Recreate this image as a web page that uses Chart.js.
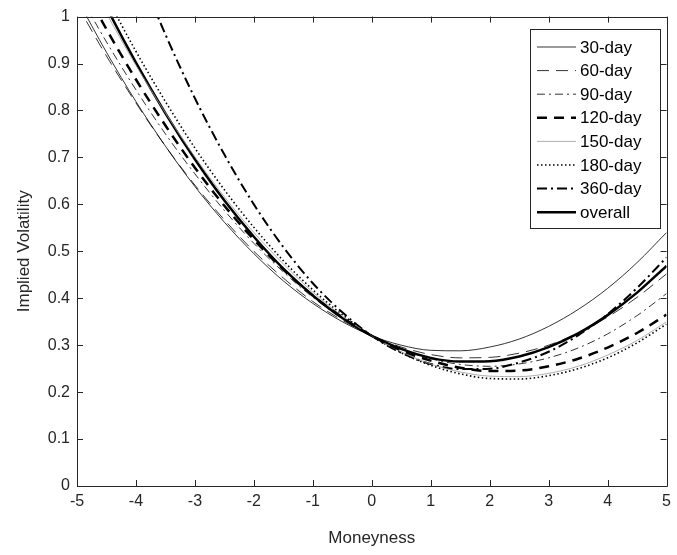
<!DOCTYPE html>
<html>
<head>
<meta charset="utf-8">
<script src="https://cdn.jsdelivr.net/npm/chart.js@4.4.1/dist/chart.umd.min.js"></script>
<style>
html, body { margin: 0; padding: 0; background: #fff; }
#wrap { width: 677px; height: 555px; }
</style>
</head>
<body>
<div id="wrap"><canvas id="smile" width="677" height="555"></canvas></div>
<script>
// moneyness grid and implied volatility
var moneyness = [-5, -4.5, -4, -3.5, -3, -2.5, -2, -1.5, -1, -0.5, 0, 0.5, 1, 1.5, 2, 2.5, 3, 3.5, 4, 4.5, 5];
var vol30  = [1.038, 0.924, 0.819, 0.724, 0.638, 0.562, 0.495, 0.437, 0.389, 0.350, 0.320, 0.300, 0.289, 0.288, 0.296, 0.313, 0.340, 0.376, 0.421, 0.476, 0.540];
var vol60  = [1.025, 0.916, 0.816, 0.724, 0.641, 0.567, 0.500, 0.443, 0.393, 0.353, 0.320, 0.296, 0.280, 0.273, 0.274, 0.283, 0.300, 0.326, 0.360, 0.402, 0.452];
var vol90  = [1.056, 0.946, 0.844, 0.750, 0.665, 0.587, 0.517, 0.456, 0.402, 0.357, 0.320, 0.291, 0.271, 0.259, 0.255, 0.260, 0.273, 0.294, 0.324, 0.363, 0.410];
var vol120 = [1.089, 0.973, 0.866, 0.768, 0.678, 0.597, 0.525, 0.461, 0.406, 0.359, 0.320, 0.289, 0.267, 0.252, 0.245, 0.246, 0.255, 0.271, 0.295, 0.326, 0.365];
var vol150 = [1.126, 1.007, 0.896, 0.795, 0.701, 0.616, 0.540, 0.473, 0.413, 0.362, 0.320, 0.286, 0.260, 0.243, 0.234, 0.233, 0.240, 0.255, 0.279, 0.310, 0.350];
var vol180 = [1.169, 1.043, 0.926, 0.819, 0.720, 0.631, 0.551, 0.480, 0.418, 0.365, 0.320, 0.284, 0.257, 0.239, 0.229, 0.228, 0.235, 0.250, 0.273, 0.305, 0.345];
var vol360 = [1.466, 1.281, 1.114, 0.962, 0.826, 0.706, 0.600, 0.509, 0.432, 0.370, 0.320, 0.284, 0.260, 0.249, 0.250, 0.263, 0.286, 0.321, 0.366, 0.422, 0.487];
var volAll = [1.148, 1.020, 0.902, 0.794, 0.696, 0.608, 0.531, 0.463, 0.406, 0.358, 0.320, 0.292, 0.273, 0.265, 0.266, 0.276, 0.296, 0.325, 0.364, 0.412, 0.469];

var seriesNames = ['30-day', '60-day', '90-day', '120-day', '150-day', '180-day', '360-day', 'overall'];
var xTicks = [-5, -4, -3, -2, -1, 0, 1, 2, 3, 4, 5];
var yTicks = [0, 0.1, 0.2, 0.3, 0.4, 0.5, 0.6, 0.7, 0.8, 0.9, 1];
var yTickLabels = ['0', '0.1', '0.2', '0.3', '0.4', '0.5', '0.6', '0.7', '0.8', '0.9', '1'];

var axisColor = '#262626';
var fontName = '"Liberation Sans", Arial, sans-serif';

function toPoints(values) {
    return values.map(function (v, i) { return { x: moneyness[i], y: v }; });
}

function makeSet(label, values, width, dash, color) {
    return {
        label: label,
        data: toPoints(values),
        borderColor: color || '#000',
        borderWidth: width,
        borderDash: dash,
        pointRadius: 0,
        fill: false,
        cubicInterpolationMode: 'monotone'
    };
}

// frame with inward ticks on all four sides, like the original
var boxAxes = {
    id: 'boxAxes',
    afterDraw: function (chart) {
        var ctx = chart.ctx;
        var a = chart.chartArea;
        var xs = chart.scales.x, ys = chart.scales.y;
        var len = 6;
        ctx.save();
        ctx.strokeStyle = axisColor;
        ctx.lineWidth = 1;
        ctx.setLineDash([]);
        ctx.beginPath();
        ctx.rect(Math.round(a.left) + 0.5, Math.round(a.top) + 0.5, Math.round(a.right - a.left), Math.round(a.bottom - a.top));
        xTicks.forEach(function (t) {
            var px = Math.round(xs.getPixelForValue(t)) + 0.5;
            ctx.moveTo(px, a.bottom); ctx.lineTo(px, a.bottom - len);
            ctx.moveTo(px, a.top); ctx.lineTo(px, a.top + len);
        });
        yTicks.forEach(function (t) {
            var py = Math.round(ys.getPixelForValue(t)) + 0.5;
            ctx.moveTo(a.left, py); ctx.lineTo(a.left + len, py);
            ctx.moveTo(a.right, py); ctx.lineTo(a.right - len, py);
        });
        ctx.stroke();
        ctx.restore();
    }
};

// legend box inside the plot, top right
var legendBox = {
    id: 'legendBox',
    afterDraw: function (chart) {
        var ctx = chart.ctx;
        var x0 = 530.5, y0 = 29.5, w = 130, h = 199;
        ctx.save();
        ctx.fillStyle = '#fff';
        ctx.fillRect(x0, y0, w, h);
        ctx.strokeStyle = axisColor;
        ctx.lineWidth = 1;
        ctx.setLineDash([]);
        ctx.strokeRect(x0, y0, w, h);
        chart.data.datasets.forEach(function (ds, i) {
            var y = 47 + i * 23.6;
            ctx.beginPath();
            ctx.setLineDash(ds.borderDash || []);
            ctx.lineWidth = ds.borderWidth;
            ctx.strokeStyle = ds.borderColor;
            ctx.moveTo(537, y);
            ctx.lineTo(576, y);
            ctx.stroke();
            ctx.setLineDash([]);
            ctx.fillStyle = '#000';
            ctx.font = '17px ' + fontName;
            ctx.textBaseline = 'middle';
            ctx.textAlign = 'left';
            ctx.fillText(ds.label, 580, y + 1);
        });
        ctx.restore();
    }
};

var ctx = document.getElementById('smile');
new Chart(ctx, {
    type: 'line',
    data: {
        datasets: [
            makeSet(seriesNames[0], vol30, 0.8, []),
            makeSet(seriesNames[1], vol60, 0.8, [12, 7]),
            makeSet(seriesNames[2], vol90, 0.8, [8, 4, 2, 4]),
            makeSet(seriesNames[3], vol120, 2.5, [10, 7]),
            makeSet(seriesNames[4], vol150, 0.8, [], '#999'),
            makeSet(seriesNames[5], vol180, 1.6, [1.5, 2.5]),
            makeSet(seriesNames[6], vol360, 2, [10, 4, 2, 4]),
            makeSet(seriesNames[7], volAll, 2.5, [])
        ]
    },
    options: {
        responsive: false,
        devicePixelRatio: 1,
        animation: false,
        layout: { padding: { top: 15, right: 6, left: 0, bottom: 0 } },
        plugins: {
            legend: { display: false },
            tooltip: { enabled: false }
        },
        scales: {
            x: {
                type: 'linear',
                min: -5,
                max: 5,
                afterBuildTicks: function (scale) {
                    scale.ticks = xTicks.map(function (v) { return { value: v }; });
                },
                afterFit: function (scale) { scale.height = 69; },
                grid: { display: false, drawTicks: false },
                border: { display: false },
                ticks: {
                    color: axisColor,
                    font: { family: fontName, size: 16 },
                    padding: 6,
                    maxRotation: 0,
                    callback: function (v) { return String(v); }
                },
                title: {
                    display: true,
                    text: 'Moneyness',
                    color: axisColor,
                    font: { family: fontName, size: 17 },
                    padding: { top: 4, bottom: 6 }
                }
            },
            y: {
                type: 'linear',
                min: 0,
                max: 1,
                afterBuildTicks: function (scale) {
                    scale.ticks = yTicks.map(function (v) { return { value: v }; });
                },
                afterFit: function (scale) { scale.width = 77; },
                grid: { display: false, drawTicks: false },
                border: { display: false },
                ticks: {
                    color: axisColor,
                    font: { family: fontName, size: 16 },
                    padding: 7,
                    callback: function (v, i) { return yTickLabels[i]; }
                },
                title: {
                    display: true,
                    text: 'Implied Volatility',
                    color: axisColor,
                    font: { family: fontName, size: 17 },
                    padding: { top: 14, bottom: 0 }
                }
            }
        }
    },
    plugins: [boxAxes, legendBox]
});
</script>
</body>
</html>
